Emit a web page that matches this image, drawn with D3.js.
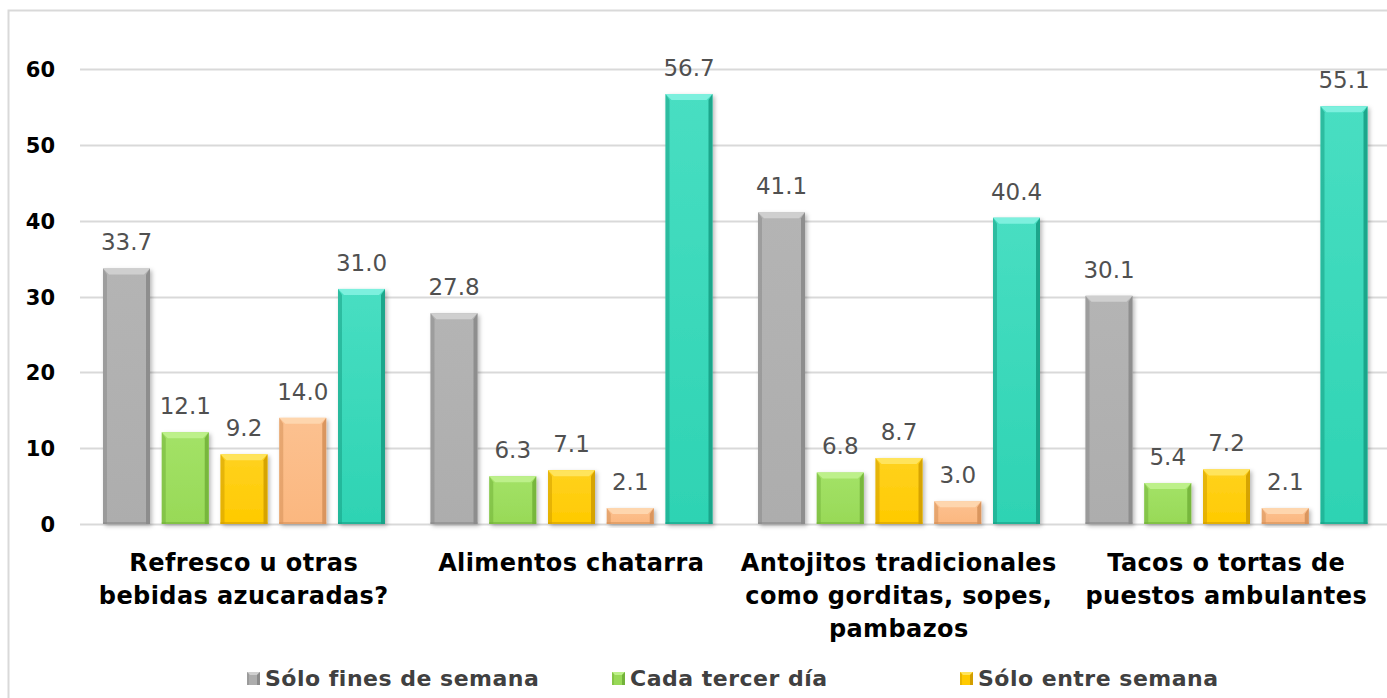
<!DOCTYPE html>
<html>
<head>
<meta charset="utf-8">
<script src="https://cdn.jsdelivr.net/npm/d3@7"></script>
<style>
  html, body { margin: 0; padding: 0; background: #ffffff; }
  svg { display: block; }
</style>
</head>
<body>
<svg id="chart" width="1387" height="698"></svg>
<script>
// Category labels (pre-broken into lines)
const categories = [
  "Refresco u otras bebidas azucaradas?",
  "Alimentos chatarra",
  "Antojitos tradicionales como gorditas, sopes, pambazos",
  "Tacos o tortas de puestos ambulantes"
];
const categoryLines = [
  ["Refresco u otras", "bebidas azucaradas?"],
  ["Alimentos chatarra"],
  ["Antojitos tradicionales", "como gorditas, sopes,", "pambazos"],
  ["Tacos o tortas de", "puestos ambulantes"]
];

// Series values (%), one array per series
const soloFinesDeSemana = [33.7, 27.8, 41.1, 30.1];
const cadaTercerDia     = [12.1, 6.3, 6.8, 5.4];
const soloEntreSemana   = [9.2, 7.1, 8.7, 7.2];
const serieCuatro       = [14.0, 2.1, 3.0, 2.1];
const serieCinco        = [31.0, 56.7, 40.4, 55.1];

const legendLabels = ["Sólo fines de semana", "Cada tercer día", "Sólo entre semana"];
const yTicks = [0, 10, 20, 30, 40, 50, 60];

const seriesValues = [soloFinesDeSemana, cadaTercerDia, soloEntreSemana, serieCuatro, serieCinco];
const seriesKeys = ["s1", "s2", "s3", "s4", "s5"];

// Bevel palettes: main face, top highlight, side shade
const palette = {
  s1: { main: "#ADADAD", light: "#CFCFCF", dark: "#8A8A8A", top: "#B4B4B4" },
  s2: { main: "#98D957", light: "#BDF08A", dark: "#73B23A", top: "#A3E267" },
  s3: { main: "#FFCA00", light: "#FFE45C", dark: "#D29E00", top: "#FFD21F" },
  s4: { main: "#FBB77F", light: "#FED6AE", dark: "#D6915A", top: "#FCC190" },
  s5: { main: "#2ED3B3", light: "#7DF0DE", dark: "#17A085", top: "#48DEC2" }
};

const font = "'DejaVu Sans', 'Noto Sans', sans-serif";

const svg = d3.select("#chart");
const defs = svg.append("defs");

// soft drop shadow under bars
const shadow = defs.append("filter").attr("id", "barShadow")
  .attr("x", "-20%").attr("y", "-10%").attr("width", "150%").attr("height", "130%");
shadow.append("feDropShadow").attr("dx", 2).attr("dy", 2)
  .attr("stdDeviation", 2).attr("flood-color", "#000").attr("flood-opacity", 0.28);

// vertical gradient for bar faces
seriesKeys.forEach(k => {
  const g = defs.append("linearGradient").attr("id", "face-" + k)
    .attr("x1", 0).attr("y1", 0).attr("x2", 0).attr("y2", 1);
  g.append("stop").attr("offset", "0%").attr("stop-color", palette[k].top);
  g.append("stop").attr("offset", "100%").attr("stop-color", palette[k].main);
});

const plotLeft = 80, plotRight = 1390, plotTop = 69, plotBottom = 524;

const x0 = d3.scaleBand().domain(d3.range(categories.length))
  .range([plotLeft, plotRight]).paddingInner(0).paddingOuter(0);
const x1 = d3.scaleBand().domain(seriesKeys)
  .range([23, x0.bandwidth() - 22.5]).paddingInner(0.2).paddingOuter(0);
const y = d3.scaleLinear().domain([0, 60]).range([plotBottom, plotTop]);

// outer chart border (left and top edges visible)
svg.append("path")
  .attr("d", `M8.5,${698} L8.5,10.5 L1387,10.5`)
  .attr("fill", "none").attr("stroke", "#D9D9D9").attr("stroke-width", 2);

// gridlines
svg.append("g").selectAll("line").data(yTicks).join("line")
  .attr("x1", plotLeft).attr("x2", 1387)
  .attr("y1", d => Math.round(y(d)) + 0.5).attr("y2", d => Math.round(y(d)) + 0.5)
  .attr("stroke", "#D9D9D9").attr("stroke-width", 2);

// y axis labels
const yAxis = d3.axisLeft(y).tickValues(yTicks).tickSize(0).tickPadding(0);
const yg = svg.append("g").attr("transform", `translate(55,0)`).call(yAxis);
yg.select(".domain").remove();
yg.selectAll("text")
  .attr("font-family", font).attr("font-weight", "bold").attr("font-size", 21)
  .attr("fill", "#000").attr("dy", "0.36em");

// bars
const data = [];
categories.forEach((c, i) => {
  seriesKeys.forEach((k, j) => data.push({ cat: i, key: k, value: seriesValues[j][i] }));
});

const bev = 6, side = 4;
const bars = svg.append("g").selectAll("g.bar").data(data).join("g")
  .attr("class", "bar")
  .attr("transform", d => `translate(${x0(d.cat) + x1(d.key)},0)`);

bars.each(function(d) {
  const g = d3.select(this);
  const w = x1.bandwidth();
  const top = y(d.value), bot = y(0);
  const h = bot - top;
  const b = Math.min(bev, h / 2);
  const p = palette[d.key];
  g.append("rect").attr("x", 0).attr("y", top).attr("width", w).attr("height", h)
    .attr("fill", `url(#face-${d.key})`).attr("filter", "url(#barShadow)");
  // top bevel
  g.append("path")
    .attr("d", `M0,${top} L${w},${top} L${w - b},${top + b} L${b},${top + b} Z`)
    .attr("fill", p.light);
  // left bevel
  g.append("path")
    .attr("d", `M0,${top} L${side},${top + b} L${side},${bot} L0,${bot} Z`)
    .attr("fill", p.dark).attr("opacity", 0.55);
  // right bevel
  g.append("path")
    .attr("d", `M${w},${top} L${w - side},${top + b} L${w - side},${bot} L${w},${bot} Z`)
    .attr("fill", p.dark).attr("opacity", 0.9);
  // bottom edge
  g.append("rect").attr("x", 0).attr("y", bot - 2).attr("width", w).attr("height", 2)
    .attr("fill", p.dark).attr("opacity", 0.6);
});

// value labels
svg.append("g").selectAll("text").data(data).join("text")
  .attr("x", d => x0(d.cat) + x1(d.key) + x1.bandwidth() / 2)
  .attr("y", d => y(d.value) - 18)
  .attr("text-anchor", "middle")
  .attr("font-family", font).attr("font-size", 23).attr("fill", "#505050")
  .text(d => d.value.toFixed(1));

// category labels
const catG = svg.append("g").selectAll("text").data(categoryLines).join("text")
  .attr("text-anchor", "middle")
  .attr("font-family", font).attr("font-weight", "bold").attr("font-size", 24)
  .attr("letter-spacing", 0.4)
  .attr("fill", "#000");
catG.each(function(lines, i) {
  const t = d3.select(this);
  lines.forEach((ln, k) => {
    t.append("tspan")
      .attr("x", x0(i) + x0.bandwidth() / 2)
      .attr("y", 571 + k * 33)
      .text(ln);
  });
});

// legend
const legendX = [247, 612, 960];
const lg = svg.append("g").selectAll("g").data(legendLabels).join("g")
  .attr("transform", (d, i) => `translate(${legendX[i]},672)`);
lg.each(function(d, i) {
  const g = d3.select(this);
  const k = seriesKeys[i];
  const p = palette[k];
  g.append("rect").attr("x", 0).attr("y", 0).attr("width", 13).attr("height", 13).attr("fill", p.main);
  g.append("path").attr("d", "M0,0 L13,0 L10,3 L3,3 Z").attr("fill", p.light);
  g.append("path").attr("d", "M13,0 L13,13 L10,13 L10,3 Z").attr("fill", p.dark);
  g.append("path").attr("d", "M0,0 L0,13 L2,13 L2,2 Z").attr("fill", p.dark).attr("opacity", 0.5);
  g.append("text").attr("x", 18).attr("y", 6.5).attr("dy", "0.36em")
    .attr("font-family", font).attr("font-weight", "bold").attr("font-size", 22)
    .attr("letter-spacing", 0.5)
    .attr("fill", "#404040").text(d);
});
</script>
</body>
</html>
